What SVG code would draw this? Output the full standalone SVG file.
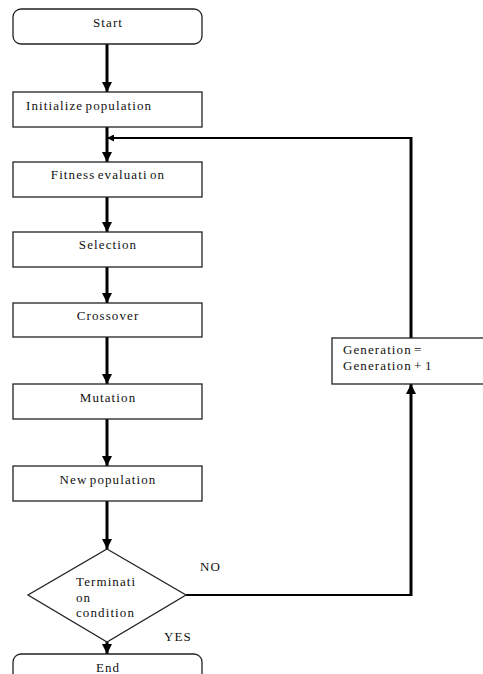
<svg xmlns="http://www.w3.org/2000/svg" width="483" height="674" viewBox="0 0 483 674">
<style>
.box{fill:#fff;stroke:#222;stroke-width:1.3}
.t{font-family:'Liberation Serif','DejaVu Serif',serif;font-size:13px;fill:#111;letter-spacing:1.1px;word-spacing:-2px}
.c{text-anchor:middle}
.main{stroke:#000;stroke-width:3;fill:none}
.thin{stroke:#000;stroke-width:2;fill:none}
</style>
<defs>
<marker id="ah" markerUnits="userSpaceOnUse" markerWidth="10" markerHeight="10" viewBox="0 0 10 10" refX="10" refY="5" orient="auto">
<path d="M0,0 L10,5 L0,10 Z" fill="#000"/>
</marker>
<marker id="ahs" markerUnits="userSpaceOnUse" markerWidth="7" markerHeight="7" viewBox="0 0 10 10" refX="10" refY="5" orient="auto">
<path d="M0,0 L10,5 L0,10 Z" fill="#000"/>
</marker>
</defs>
<g id="connectors">
<line class="main" x1="107" y1="44" x2="107" y2="92" marker-end="url(#ah)"/>
<line class="main" x1="107" y1="127" x2="107" y2="162" marker-end="url(#ah)"/>
<line class="main" x1="107" y1="197" x2="107" y2="232" marker-end="url(#ah)"/>
<line class="main" x1="107" y1="267" x2="107" y2="303" marker-end="url(#ah)"/>
<line class="main" x1="107" y1="337" x2="107" y2="384" marker-end="url(#ah)"/>
<line class="main" x1="107" y1="419" x2="107" y2="466" marker-end="url(#ah)"/>
<line class="main" x1="107" y1="501" x2="107" y2="549" marker-end="url(#ah)"/>
<line class="main" x1="107" y1="642" x2="107" y2="654" marker-end="url(#ah)"/>
<polyline class="thin" points="186,595 411,595"/>
<line class="main" x1="411" y1="596" x2="411" y2="384" marker-end="url(#ah)"/>
<line class="main" x1="411" y1="338" x2="411" y2="137"/>
<line class="thin" x1="412" y1="138" x2="107" y2="138" marker-end="url(#ahs)"/>
</g>
<g id="start">
<rect class="box" x="13" y="9" width="189" height="35" rx="8"/>
<text class="t c" x="108" y="27" font-family="Liberation Serif, DejaVu Serif, serif">Start</text>
</g>
<g id="init">
<rect class="box" x="13" y="92" width="189" height="35"/>
<text class="t" x="26" y="110" font-family="Liberation Serif, DejaVu Serif, serif">Initialize population</text>
</g>
<g id="fitness">
<rect class="box" x="13" y="162" width="189" height="35"/>
<text class="t c" x="108" y="179" font-family="Liberation Serif, DejaVu Serif, serif">Fitness evaluati on</text>
</g>
<g id="selection">
<rect class="box" x="13" y="232" width="189" height="35"/>
<text class="t c" x="108" y="249" font-family="Liberation Serif, DejaVu Serif, serif">Selection</text>
</g>
<g id="crossover">
<rect class="box" x="13" y="303" width="189" height="34"/>
<text class="t c" x="108" y="320" font-family="Liberation Serif, DejaVu Serif, serif">Crossover</text>
</g>
<g id="mutation">
<rect class="box" x="13" y="384" width="189" height="35"/>
<text class="t c" x="108" y="402" font-family="Liberation Serif, DejaVu Serif, serif">Mutation</text>
</g>
<g id="newpop">
<rect class="box" x="13" y="466" width="189" height="35"/>
<text class="t c" x="108" y="484" font-family="Liberation Serif, DejaVu Serif, serif">New population</text>
</g>
<g id="termination">
<polygon class="box" points="107,549 186,595 107,642 28,595"/>
<text class="t" x="76" y="586" font-family="Liberation Serif, DejaVu Serif, serif">Terminati</text>
<text class="t" x="76" y="602" font-family="Liberation Serif, DejaVu Serif, serif">on</text>
<text class="t" x="76" y="617" font-family="Liberation Serif, DejaVu Serif, serif">condition</text>
</g>
<g id="end">
<rect class="box" x="13" y="654" width="189" height="40" rx="8"/>
<text class="t c" x="108" y="672" font-family="Liberation Serif, DejaVu Serif, serif">End</text>
</g>
<g id="generation">
<rect class="box" x="332" y="338" width="160" height="46"/>
<text class="t" x="343" y="354" font-family="Liberation Serif, DejaVu Serif, serif">Generation =</text>
<text class="t" x="343" y="370" font-family="Liberation Serif, DejaVu Serif, serif">Generation + 1</text>
</g>
<g id="labels">
<text class="t" x="200" y="571" font-family="Liberation Serif, DejaVu Serif, serif">NO</text>
<text class="t" x="164" y="641" font-family="Liberation Serif, DejaVu Serif, serif">YES</text>
</g>
</svg>
